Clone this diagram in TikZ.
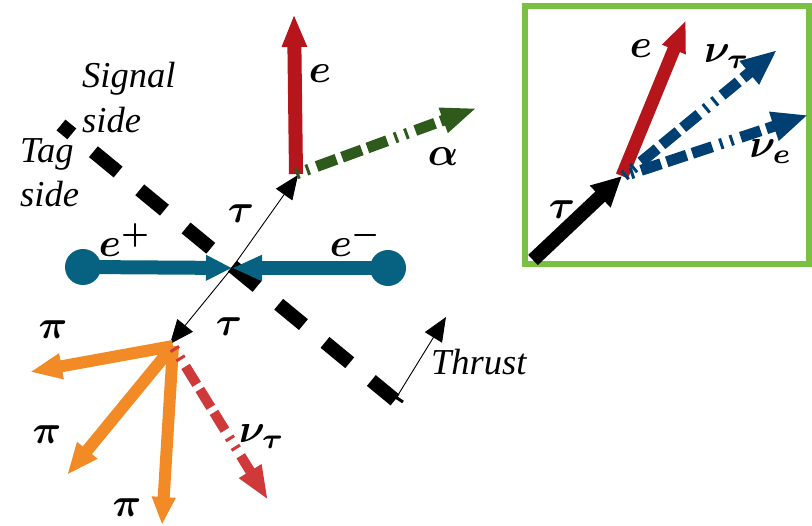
\documentclass[tikz,border=0pt]{standalone}
\usepackage{amsmath}
\usepackage{bm}
\usepackage{graphicx}
\usepackage{fontspec}
\setmainfont{Liberation Serif}
\usetikzlibrary{arrows.meta}
\definecolor{ered}{HTML}{B5151B}
\definecolor{agreen}{HTML}{2E5A1C}
\definecolor{beam}{HTML}{066280}
\definecolor{pion}{HTML}{F28A25}
\definecolor{nured}{HTML}{D0393A}
\definecolor{nublue}{HTML}{003F72}
\definecolor{boxgreen}{HTML}{7AC143}
\newcommand{\biglab}[1]{\scalebox{4}{$#1$}}
\tikzset{
  lbl/.style={inner sep=0pt},
  itxt/.style={inner sep=0pt, anchor=base west, font=\fontsize{36.5}{36.5}\selectfont\itshape},
  dashdd/.style={dash pattern=on 3pt off 8pt on 3pt off 8pt on 21pt off 6pt on 21pt off 6pt on 21pt off 8pt},
  thin arrow/.style={line width=0.9pt, -{Triangle[length=24pt,width=20pt]}},
}
\begin{document}
\begin{tikzpicture}[x=1pt,y=-1pt]
\useasboundingbox (0,0) rectangle (812,526);

% coordinates
\coordinate (C) at (232,268);
\coordinate (Ep) at (83,267);
\coordinate (Em) at (388,268);
\coordinate (Tu) at (298,175);
\coordinate (Td) at (170,344);
\coordinate (Dv) at (296,174);
\coordinate (Dd) at (173,346);
\coordinate (ETip) at (294,14);
\coordinate (ATip) at (477,108);
\coordinate (P1) at (30,372);
\coordinate (P2) at (67,475);
\coordinate (P3) at (162,525);
\coordinate (NT) at (268,500);
\coordinate (ThA) at (61,125);
\coordinate (ThB) at (395,400);
\coordinate (ThS) at (398,395);
\coordinate (ThT) at (446,317);

% thrust axis
\draw[line width=14pt, dash pattern=on 32pt off 28pt, dash phase=18pt] (ThA) -- (ThB);
\draw[line width=3pt] (394,396) -- (403,402);
\draw[thin arrow] (ThS) -- (ThT);

% beams
\fill[beam] (Ep) circle[radius=18pt];
\fill[beam] (Em) circle[radius=18pt];
\draw[beam, line width=14pt, -{Triangle[length=26pt,width=24pt]}] (Ep) -- (C);
\draw[beam, line width=14pt, -{Triangle[length=30pt,width=24pt]}] (Em) -- (C);

% tau pair
\draw[thin arrow] (C) -- (Tu);
\draw[thin arrow] (C) -- (Td);

% signal side decay
\draw[ered, line width=14pt, -{Triangle[length=33pt,width=23pt]}] (Dv) -- (ETip);
\draw[agreen, line width=11pt, dashdd, -{Triangle[length=36pt,width=24pt]}] (Dv) -- (ATip);

% tag side decay
\draw[pion, line width=12pt, -{Triangle[length=32pt,width=24pt]}] (Dd) -- (P1);
\draw[pion, line width=12pt, -{Triangle[length=32pt,width=24pt]}] (Dd) -- (P2);
\draw[pion, line width=12pt, -{Triangle[length=28pt,width=22pt]}] (Dd) -- (P3);
\draw[nured, line width=10pt, dashdd, dash phase=-2pt, -{Triangle[length=34pt,width=24pt]}] (Dd) -- (NT);

% labels
\node[lbl] (le) at (320,74) {\biglab{\bm{e}}};
\node[lbl] (la) at (443,157) {\biglab{\bm{\alpha}}};
\node[lbl] (ltu) at (241,214) {\biglab{\bm{\tau}}};
\node[lbl] (ltd) at (229,327) {\biglab{\bm{\tau}}};
\node[lbl] (lep) at (125,240) {\biglab{\bm{e}^{\bm{+}}}};
\node[lbl] (lem) at (356,240) {\biglab{\bm{e}^{\bm{-}}}};
\node[lbl] (lp1) at (53,330) {\biglab{\bm{\pi}}};
\node[lbl] (lp2) at (47,435) {\biglab{\bm{\pi}}};
\node[lbl] (lp3) at (127,508) {\biglab{\bm{\pi}}};
\node[lbl] (lnt) at (262,437) {\biglab{\bm{\nu_{\tau}}}};
\node[itxt] (sig1) at (82,88) {Signal};
\node[itxt] (sig2) at (82,133) {side};
\node[itxt] (tag1) at (20,163) {Tag};
\node[itxt] (tag2) at (20,207) {side};
\node[itxt] (thr) at (431,375) {Thrust};

% inset
\draw[boxgreen, line width=6pt] (525,6) rectangle (809,264);
\coordinate (Ia) at (533,260);
\coordinate (Iv) at (622,176);
\coordinate (Ie) at (686,20);
\coordinate (Int) at (777,50);
\coordinate (Ine) at (808,115);
\draw[line width=14pt, -{Triangle[length=30pt,width=28pt]}] (Ia) -- (Iv);
\draw[ered, line width=13pt, -{Triangle[length=32pt,width=23pt]}] (Iv) -- (Ie);
\draw[nublue, line width=11pt, dashdd, -{Triangle[length=36pt,width=28pt]}] (624,176) -- (Int);
\draw[nublue, line width=11pt, dashdd, dash phase=4pt, -{Triangle[length=36pt,width=28pt]}] (624,176) -- (Ine);
\node[lbl] (ile) at (641,49) {\biglab{\bm{e}}};
\node[lbl] (iltau) at (562,210) {\biglab{\bm{\tau}}};
\node[lbl] (ilnt) at (727,57) {\biglab{\bm{\nu_{\tau}}}};
\node[lbl] (ilne) at (771,152) {\biglab{\bm{\nu_{e}}}};
\end{tikzpicture}
\end{document}
